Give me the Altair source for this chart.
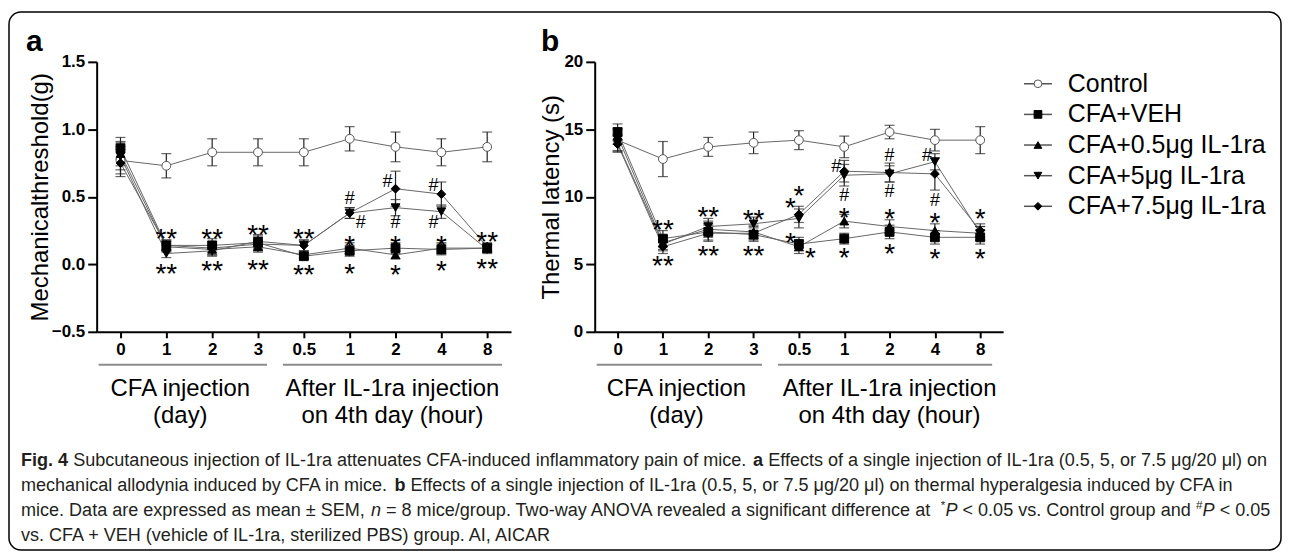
import altair as alt
import pandas as pd

# ---------------- data ----------------
times = ["d0", "d1", "d2", "d3", "h0.5", "h1", "h2", "h4", "h8"]
groups = ["Control", "CFA+VEH", "CFA+0.5μg IL-1ra", "CFA+5μg IL-1ra", "CFA+7.5μg IL-1ra"]
shapes = ["circle", "square", "triangle-up", "triangle-down", "diamond"]
fills = ["white", "black", "black", "black", "black"]
strokes = ["#555555", "black", "black", "black", "black"]

# panel a: mechanical threshold (g)
a_control = [0.77, 0.73, 0.83, 0.83, 0.83, 0.93, 0.87, 0.83, 0.87]
a_control_sem = [0.10, 0.09, 0.10, 0.10, 0.10, 0.09, 0.11, 0.10, 0.11]
a_veh = [0.86, 0.14, 0.14, 0.16, 0.06, 0.10, 0.12, 0.11, 0.12]
a_veh_sem = [0.08, 0.04, 0.05, 0.05, 0.02, 0.04, 0.04, 0.04, 0.03]
a_il05 = [0.82, 0.13, 0.11, 0.13, 0.07, 0.12, 0.07, 0.12, 0.12]
a_il05_sem = [0.09, 0.04, 0.04, 0.04, 0.02, 0.04, 0.03, 0.04, 0.03]
a_il5 = [0.80, 0.08, 0.10, 0.17, 0.14, 0.38, 0.42, 0.39, 0.11]
a_il5_sem = [0.10, 0.03, 0.04, 0.05, 0.04, 0.04, 0.06, 0.05, 0.03]
a_il75 = [0.75, 0.14, 0.12, 0.15, 0.14, 0.38, 0.56, 0.52, 0.13]
a_il75_sem = [0.10, 0.04, 0.05, 0.05, 0.04, 0.04, 0.13, 0.09, 0.03]

# panel b: thermal latency (s)
b_control = [14.2, 12.8, 13.7, 14.0, 14.2, 13.7, 14.8, 14.2, 14.2]
b_control_sem = [0.8, 1.3, 0.7, 0.8, 0.7, 0.8, 0.5, 0.8, 1.0]
b_veh = [14.8, 6.9, 7.4, 7.2, 6.5, 6.9, 7.4, 7.0, 7.0]
b_veh_sem = [0.6, 0.6, 0.6, 0.5, 0.5, 0.4, 0.5, 0.5, 0.5]
b_il05 = [14.5, 6.6, 7.6, 7.4, 6.3, 8.2, 7.8, 7.5, 7.3]
b_il05_sem = [0.6, 0.5, 0.6, 0.5, 0.5, 0.5, 0.5, 0.5, 0.5]
b_il5 = [14.0, 6.5, 7.8, 8.0, 8.4, 11.6, 11.7, 12.6, 7.3]
b_il5_sem = [0.6, 0.5, 0.6, 0.5, 0.7, 0.8, 0.6, 0.6, 0.5]
b_il75 = [13.9, 6.3, 7.3, 7.3, 8.7, 11.9, 11.8, 11.7, 7.5]
b_il75_sem = [0.6, 0.5, 0.6, 0.5, 0.6, 0.8, 0.7, 1.2, 0.5]

# significance marks
ann_a_t = ["d1", "d1", "d2", "d2", "d3", "d3", "h0.5", "h0.5", "h1", "h1", "h1", "h1",
           "h2", "h2", "h2", "h2", "h4", "h4", "h4", "h4", "h8", "h8"]
ann_a_y = [0.24, -0.02, 0.24, 0.0, 0.27, 0.01, 0.24, -0.03, 0.49, 0.31, 0.19, -0.02,
           0.62, 0.315, 0.19, -0.03, 0.59, 0.31, 0.19, 0.0, 0.22, 0.02]
ann_a_txt = ["**", "**", "**", "**", "**", "**", "**", "**", "#", "#", "*", "*",
             "#", "#", "*", "*", "#", "#", "*", "*", "**", "**"]
ann_a_pos = ["c", "c", "c", "c", "c", "c", "c", "c", "c", "r", "c", "c",
             "l", "c", "c", "c", "l", "l", "c", "c", "c", "c"]

ann_b_t = ["d1", "d1", "d2", "d2", "d3", "d3", "h0.5", "h0.5", "h0.5", "h0.5",
           "h1", "h1", "h1", "h1", "h2", "h2", "h2", "h2", "h4", "h4", "h4", "h4", "h8", "h8"]
ann_b_y = [8.05, 5.4, 9.0, 6.1, 8.8, 6.1, 10.6, 9.7, 7.1, 5.97,
           12.3, 10.1, 8.95, 5.97, 13.1, 10.4, 8.9, 6.25, 13.1, 9.8, 8.55, 5.9, 8.9, 5.9]
ann_b_txt = ["**", "**", "**", "**", "**", "**", "*", "*", "*", "*",
             "#", "#", "*", "*", "#", "#", "*", "*", "#", "#", "*", "*", "*", "*"]
ann_b_pos = ["c", "c", "c", "c", "c", "c", "c", "l", "l", "r",
             "l", "c", "c", "c", "c", "c", "c", "c", "l", "c", "c", "c", "c", "c"]

group_label_1 = "CFA injection\n(day)"
group_label_2 = "After IL-1ra injection\non 4th day (hour)"
title_a = "Mechanicalthreshold(g)"
title_b = "Thermal latency (s)"

caption_lines = [
    [("Fig. 4", "b"), (" Subcutaneous injection of IL-1ra attenuates CFA-induced inflammatory pain of mice. ", "n"),
     ("a", "b"), (" Effects of a single injection of IL-1ra (0.5, 5, or 7.5 μg/20 μl) on", "n")],
    [("mechanical allodynia induced by CFA in mice. ", "n"), ("b", "b"),
     (" Effects of a single injection of IL-1ra (0.5, 5, or 7.5 μg/20 μl) on thermal hyperalgesia induced by CFA in", "n")],
    [("mice. Data are expressed as mean ± SEM, ", "n"), ("n", "i"),
     (" = 8 mice/group. Two-way ANOVA revealed a significant difference at ", "n"), ("*", "s"), ("P", "i"),
     (" < 0.05 vs. Control group and ", "n"), ("#", "s"), ("P", "i"), (" < 0.05", "n")],
    [("vs. CFA + VEH (vehicle of IL-1ra, sterilized PBS) group. AI, AICAR", "n")],
]


def long_df(series, sems):
    rows = []
    for g, m, s in zip(groups, series, sems):
        for i, (t, v, e) in enumerate(zip(times, m, s)):
            rows.append({"group": g, "t": t, "idx": i, "mean": v, "lo": v - e, "hi": v + e})
    return pd.DataFrame(rows)


df_a = long_df([a_control, a_veh, a_il05, a_il5, a_il75],
               [a_control_sem, a_veh_sem, a_il05_sem, a_il5_sem, a_il75_sem])
df_b = long_df([b_control, b_veh, b_il05, b_il5, b_il75],
               [b_control_sem, b_veh_sem, b_il05_sem, b_il5_sem, b_il75_sem])
ann_a = pd.DataFrame({"t": ann_a_t, "y": ann_a_y, "text": ann_a_txt, "pos": ann_a_pos})
ann_b = pd.DataFrame({"t": ann_b_t, "y": ann_b_y, "text": ann_b_txt, "pos": ann_b_pos})
for d in (ann_a, ann_b):
    d["kind"] = ["hash" if "#" in s else "star" for s in d["text"]]

H = 271
FONT = "Liberation Sans"
one = pd.DataFrame({"k": [0]})

# ---------------- caption layout (Arial metrics) ----------------
AW = {' ': 278, '!': 278, '#': 556, '(': 333, ')': 333, '*': 389, '+': 584, ',': 278, '-': 333,
      '.': 278, '/': 278, ':': 278, ';': 278, '<': 584, '=': 584, '>': 584, '±': 584, 'μ': 576,
      'A': 667, 'B': 667, 'C': 722, 'D': 722, 'E': 667, 'F': 611, 'G': 778, 'H': 722, 'I': 278,
      'J': 500, 'K': 667, 'L': 556, 'M': 833, 'N': 722, 'O': 778, 'P': 667, 'Q': 778, 'R': 722,
      'S': 667, 'T': 611, 'U': 722, 'V': 667, 'W': 944, 'X': 667, 'Y': 667, 'Z': 611,
      'a': 556, 'b': 556, 'c': 500, 'd': 556, 'e': 556, 'f': 278, 'g': 556, 'h': 556, 'i': 222,
      'j': 222, 'k': 500, 'l': 222, 'm': 833, 'n': 556, 'o': 556, 'p': 556, 'q': 556, 'r': 333,
      's': 500, 't': 278, 'u': 556, 'v': 500, 'w': 722, 'x': 500, 'y': 500, 'z': 500}
AWB = {'F': 611, 'i': 278, 'g': 611, '.': 278, ' ': 278, '4': 556, 'a': 556, 'b': 611}
SUP = 0.65


def tw(s, style):
    w = 0
    for ch in s:
        if style == "b" and ch in AWB:
            w += AWB[ch]
        elif ch.isdigit():
            w += 556
        else:
            w += AW.get(ch, 556)
    w = w / 1000.0
    return w * (SUP if style == "s" else 1.0)


CAP_FS = 1252 / sum(tw(s, st) for s, st in caption_lines[0])
cap_segments = []
for li, segs in enumerate(caption_lines):
    cx = -76.0
    for s, st in segs:
        lead = len(s) - len(s.lstrip(" "))
        cap_segments.append((cx + tw(" " * lead, "n") * CAP_FS, 401 + 25 * li, s.strip(" "), st))
        cx += tw(s, st) * CAP_FS
style_cfg = {"n": ("normal", "normal", 1.0, 0), "b": ("bold", "normal", 1.0, 0),
             "i": ("normal", "italic", 1.0, 0), "s": ("normal", "normal", SUP, -6)}


def panel(df, ann, ydom, yvals, yfmt, ytitle, title_x, width, pad, letter, letter_x, ul, gl_x, extra=False):
    xs = alt.Scale(domain=times, type="point", padding=pad)
    xax = alt.Axis(labelExpr="replace(replace(datum.value,'d',''),'h','')", labelAngle=0,
                   tickSize=6, labelPadding=4)
    x = alt.X("t:N", scale=xs, axis=xax, title=None)
    ys = alt.Scale(domain=ydom, nice=False, zero=False)
    yax = alt.Axis(values=yvals, format=yfmt, tickSize=9, labelPadding=3,
                   titleX=title_x, titleY=H / 2, titleAngle=270, titleAlign="center",
                   titleBaseline="middle")

    def Y(f):
        return alt.Y(f, scale=ys, axis=yax, title=ytitle)

    base = alt.Chart(df)
    lines = base.mark_line(color="#666666", strokeWidth=1).encode(
        x=x, y=Y("mean:Q"), detail="group:N", order="idx:Q")
    err = base.mark_rule(color="#222222", strokeWidth=1.2).encode(
        x=x, y=Y("lo:Q"), y2="hi:Q")
    cap_lo = base.mark_tick(orient="horizontal", size=10, thickness=1.2, color="#222222").encode(
        x=x, y=Y("lo:Q"))
    cap_hi = base.mark_tick(orient="horizontal", size=10, thickness=1.2, color="#222222").encode(
        x=x, y=Y("hi:Q"))
    pts = base.mark_point(filled=True, strokeWidth=1, size=78, opacity=1).encode(
        x=x, y=Y("mean:Q"),
        shape=alt.Shape("group:N", scale=alt.Scale(domain=groups, range=shapes), legend=None),
        fill=alt.Fill("group:N", scale=alt.Scale(domain=groups, range=fills), legend=None),
        stroke=alt.Stroke("group:N", scale=alt.Scale(domain=groups, range=strokes), legend=None))
    layers = [lines, err, cap_lo, cap_hi, pts]
    abase = alt.Chart(ann)
    pos_cfg = {"c": ("center", 0), "l": ("right", -3), "r": ("left", 6)}
    kind_cfg = {"star": (28, 16), "hash": (18, 6)}
    for p, (al, dx) in pos_cfg.items():
        for k, (fs, dy) in kind_cfg.items():
            layers.append(abase.transform_filter(
                f"datum.pos == '{p}' && datum.kind == '{k}'").mark_text(
                align=al, baseline="alphabetic", dx=dx, dy=dy, fontSize=fs, color="black",
                font=FONT).encode(x=x, y=Y("y:Q"), text="text:N"))
    ob = alt.Chart(one)
    layers.append(ob.mark_text(fontSize=30, fontWeight="bold", align="left", baseline="alphabetic",
                               font=FONT, color="black").encode(
        x=alt.value(letter_x), y=alt.value(-11), text=alt.value(letter)))
    for (x1, x2) in ul:
        layers.append(ob.mark_rule(color="#8c8c8c", strokeWidth=2).encode(
            x=alt.value(x1), x2=alt.value(x2), y=alt.value(304)))
    for gx, txt in zip(gl_x, [group_label_1, group_label_2]):
        layers.append(ob.mark_text(fontSize=24, align="center", baseline="middle", lineBreak="\n",
                                   lineHeight=28, font=FONT, color="black").encode(
            x=alt.value(gx), y=alt.value(328), text=alt.value(txt)))
    if extra:
        # outer rounded frame and figure caption
        layers.append(ob.mark_rect(fillOpacity=0, stroke="black", strokeWidth=1.5, cornerRadius=12).encode(
            x=alt.value(-88), x2=alt.value(1189), y=alt.value(-50), y2=alt.value(490)))
        for (px, py, txt, st) in cap_segments:
            fw, fst, mult, dy = style_cfg[st]
            layers.append(ob.mark_text(align="left", baseline="middle", font=FONT,
                                       fontSize=CAP_FS * mult, fontWeight=fw, fontStyle=fst, dy=dy,
                                       color="#231f20").encode(
                x=alt.value(px), y=alt.value(py), text=alt.value(txt)))
    return alt.layer(*layers).properties(width=width, height=H)


panel_a = panel(df_a, ann_a, [-0.5, 1.5], [-0.5, 0, 0.5, 1.0, 1.5], ".1f", title_a, -56, 416, 0.52,
                "a", -71, [(2, 171), (187, 407)], [84, 297], extra=True)
panel_b = panel(df_b, ann_b, [0, 20], [0, 5, 10, 15, 20], "d", title_b, -43, 410, 0.505,
                "b", -54, [(2, 168), (184, 399)], [82, 296])

# legend (its view starts 84px right of panel b)
leg_df = pd.DataFrame({"group": groups})
ly = alt.Y("group:N", scale=alt.Scale(domain=groups, type="point", range=[22, 145], padding=0), axis=None)
lbase = alt.Chart(leg_df)
leg = alt.layer(
    lbase.mark_rule(color="#555555", strokeWidth=1.5).encode(x=alt.value(-63), x2=alt.value(-35), y=ly),
    lbase.mark_point(filled=True, strokeWidth=1, size=60, opacity=1).encode(
        x=alt.value(-49), y=ly,
        shape=alt.Shape("group:N", scale=alt.Scale(domain=groups, range=shapes), legend=None),
        fill=alt.Fill("group:N", scale=alt.Scale(domain=groups, range=fills), legend=None),
        stroke=alt.Stroke("group:N", scale=alt.Scale(domain=groups, range=strokes), legend=None)),
    lbase.mark_text(align="left", baseline="middle", fontSize=25, font=FONT, color="black").encode(
        x=alt.value(-19), y=ly, text="group:N"),
).properties(width=150, height=160)

chart = alt.hconcat(panel_a, panel_b, leg, spacing=84, bounds="flush").properties(
    padding={"left": 0, "top": 2, "right": 2, "bottom": 2}
).configure(font=FONT).configure_view(strokeWidth=0).configure_axis(
    domainColor="black", domainWidth=2, tickColor="black", tickWidth=2, labelColor="black",
    labelFont=FONT, labelFontSize=17, labelFontWeight="bold", titleColor="black", titleFont=FONT,
    titleFontSize=24, titleFontWeight="normal", grid=False)

chart.save("out.html", embed_options={"renderer": "svg", "actions": False})
